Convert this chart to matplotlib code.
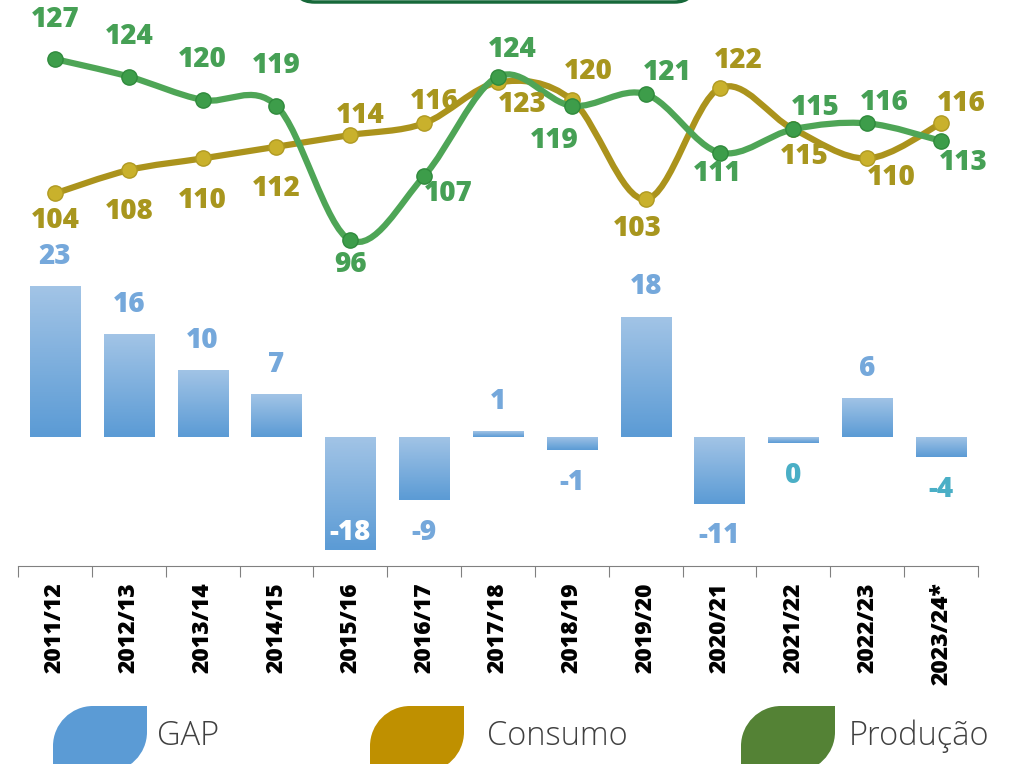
import numpy as np
import matplotlib.pyplot as plt
from matplotlib.path import Path
from matplotlib.patches import PathPatch, FancyBboxPatch
from matplotlib.colors import LinearSegmentedColormap

plt.rcParams['font.family'] = ['Open Sans', 'DejaVu Sans']

# data
safras = ["2011/12", "2012/13", "2013/14", "2014/15", "2015/16", "2016/17", "2017/18",
          "2018/19", "2019/20", "2020/21", "2021/22", "2022/23", "2023/24*"]
producao = [127, 124, 120, 119, 96, 107, 124, 119, 121, 111, 115, 116, 113]
consumo = [104, 108, 110, 112, 114, 116, 123, 120, 103, 122, 115, 110, 116]
gap = [23.2, 15.8, 10.3, 6.6, -17.4, -9.7, 0.9, -2.0, 18.5, -10.2, -0.9, 6.0, -3.1]
gap_labels = ["23", "16", "10", "7", "-18", "-9", "1", "-1", "18", "-11", "0", "6", "-4"]

# label offsets in pixels (dx, dy)
off_prod = [(0, 40), (0, 40), (0, 40), (0, 40), (0, -24), (24, -18), (14, 27),
            (-18, -35), (22, 22), (-2, -21), (22, 22), (17, 21), (22, -22)]
off_cons = [(0, -27), (0, -41), (0, -42), (0, -42), (10, 20), (10, 22), (24, -22),
            (16, 28), (-8, -29), (19, 28), (11, -27), (24, -19), (20, 20)]

W, H = 1027, 764
fig = plt.figure(figsize=(W / 100, H / 100), dpi=100)


def smooth_path(xs, ys):
    # cubic bezier through the points (catmull-rom style, like a "smoothed line")
    pts = np.column_stack([xs, ys]).astype(float)
    n = len(pts)
    verts = [pts[0]]
    codes = [Path.MOVETO]
    for i in range(n - 1):
        p0 = pts[max(i - 1, 0)]
        p1 = pts[i]
        p2 = pts[i + 1]
        p3 = pts[min(i + 2, n - 1)]
        c1 = p1 + (p2 - p0) / 6.0
        c2 = p2 - (p3 - p1) / 6.0
        verts += [c1, c2, p2]
        codes += [Path.CURVE4] * 3
    return Path(verts, codes)


def leaf(x0, y0, w, h, r):
    # square top-right / bottom-left, rounded top-left / bottom-right (pixel coords, y down)
    k = 0.45
    v = [(x0, y0 + r), (x0, y0 + r * k), (x0 + r * k, y0), (x0 + r, y0),
         (x0 + w, y0), (x0 + w, y0 + h - r),
         (x0 + w, y0 + h - r * k), (x0 + w - r * k, y0 + h), (x0 + w - r, y0 + h),
         (x0, y0 + h), (x0, y0 + r)]
    c = [Path.MOVETO, Path.CURVE4, Path.CURVE4, Path.CURVE4,
         Path.LINETO, Path.LINETO,
         Path.CURVE4, Path.CURVE4, Path.CURVE4,
         Path.LINETO, Path.CLOSEPOLY]
    v = [(a / W, 1 - b / H) for a, b in v]
    return Path(v, c)


x = np.arange(len(safras))

# ---- bars (GAP)
axb = fig.add_axes([18 / W, 1 - 566 / H, 960 / W, 326 / H])
axb.set_xlim(-0.5, 12.5)
axb.set_ylim(-19.8, 30.3)
bars = axb.bar(x, gap, width=0.68, color="none", edgecolor="none")
grad = np.linspace(0, 1, 100).reshape(-1, 1)
bcmap = LinearSegmentedColormap.from_list("b", ["#a2c4e6", "#5b9bd5"])
for b in bars:
    bx, by = b.get_x(), b.get_y()
    bw, bh = b.get_width(), b.get_height()
    y0, y1 = min(by, by + bh), max(by, by + bh)
    im = axb.imshow(grad, cmap=bcmap, aspect="auto", extent=[bx, bx + bw, y0, y1],
                    origin="upper", zorder=2)
    im.set_clip_path(b)

for i, (v, lab) in enumerate(zip(gap, gap_labels)):
    col = "#75a8db"
    if lab in ("0", "-4"):
        col = "#4aafc6"
    if v >= 0:
        dy = 30
    elif v < -15:
        dy = 18
        col = "white"
    else:
        dy = -32
    axb.annotate(lab, (i, v), xytext=(0, dy), textcoords="offset pixels",
                 ha="center", va="center", fontsize=20, fontweight=800,
                 color=col, zorder=5)

for s in ["top", "right", "left"]:
    axb.spines[s].set_visible(False)
axb.spines["bottom"].set_position(("data", -19.8))
axb.spines["bottom"].set_color("#808080")
axb.set_yticks([])
axb.set_xticks(np.arange(-0.5, 13, 1))
axb.set_xticklabels([])
axb.tick_params(axis="x", which="major", length=8, color="#808080")
axb.set_xticks(x, minor=True)
axb.set_xticklabels(safras, minor=True, rotation=90, fontsize=16.5, fontweight=800)
axb.tick_params(axis="x", which="minor", length=0, pad=12)
axb.patch.set_alpha(0)

# ---- lines
axt = fig.add_axes([18 / W, 1 - 280 / H, 960 / W, 280 / H])
axt.set_xlim(-0.5, 12.5)
axt.set_ylim(89.2, 137.1)
axt.axis("off")
axt.patch.set_alpha(0)

axt.add_patch(PathPatch(smooth_path(x, consumo), facecolor="none", edgecolor="#ab931c",
                        lw=4.5, capstyle="round", zorder=2))
axt.plot(x, consumo, "o", ms=11, color="#c9b12c", mec="#b09a22", mew=1, zorder=3)
axt.add_patch(PathPatch(smooth_path(x, producao), facecolor="none", edgecolor="#4ea556",
                        lw=4.5, capstyle="round", zorder=4))
axt.plot(x, producao, "o", ms=11, color="#3d9d4a", mec="#2f8a3c", mew=1, zorder=5)

for i in range(len(x)):
    axt.annotate(str(consumo[i]), (i, consumo[i]), xytext=off_cons[i], textcoords="offset pixels",
                 ha="center", va="center", fontsize=20, fontweight=800, color="#a8961e", zorder=6)
    axt.annotate(str(producao[i]), (i, producao[i]), xytext=off_prod[i], textcoords="offset pixels",
                 ha="center", va="center", fontsize=20, fontweight=800, color="#46a055", zorder=6)

# ---- top green box (cut off)
fig.patches.append(FancyBboxPatch((294 / W, 1 - 2 / H), 401 / W, 60 / H,
                                  boxstyle="round,pad=0,rounding_size=0.02",
                                  transform=fig.transFigure, facecolor="white",
                                  edgecolor="#17693a", lw=2.5, mutation_aspect=W / H))

# ---- legend (leaf shapes)
legend_items = ["GAP", "Consumo", "Produção"]
legend_colors = ["#5b9bd5", "#bf9000", "#548235"]
leg_x = [53, 370, 741]
text_x = [157, 487, 849]
for lx, tx, name, c in zip(leg_x, text_x, legend_items, legend_colors):
    fig.patches.append(PathPatch(leaf(lx, 706, 94, 66, 40), transform=fig.transFigure,
                                 facecolor=c, edgecolor="none"))
    fig.text(tx / W, 1 - 736 / H, name, fontsize=23.5, color="#404040",
             ha="left", va="center", fontweight="light")

fig.savefig("out.png", dpi=100)
